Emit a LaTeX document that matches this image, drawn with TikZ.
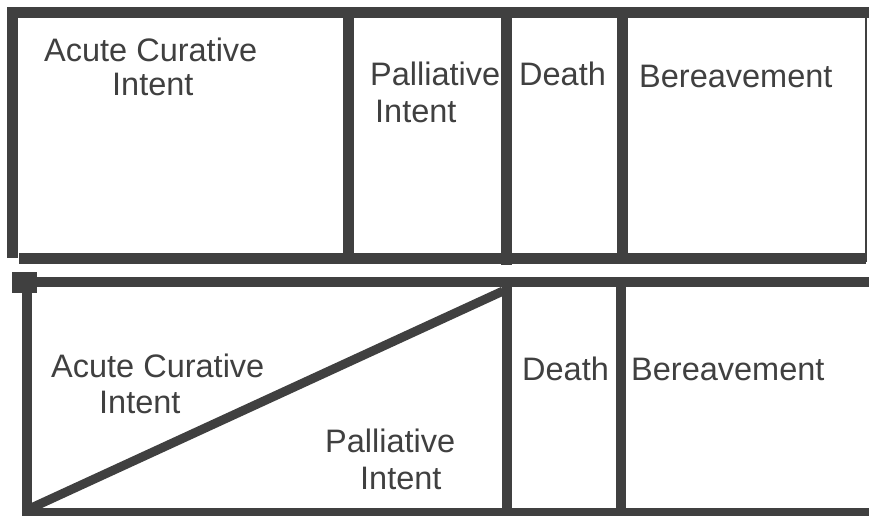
\documentclass[tikz,border=0pt]{standalone}
\usepackage{fontspec}
\setmainfont{Liberation Sans}
\definecolor{ink}{HTML}{404040}
\begin{document}
\begin{tikzpicture}[x=1pt,y=-1pt,
  bar/.style={draw=ink,line width=11pt},
  thin/.style={draw=ink,line width=2pt},
  lbl/.style={anchor=base west,inner sep=0pt,text=ink,font=\fontsize{32.5}{34}\selectfont}]
\useasboundingbox[fill=white] (0,0) rectangle (869,515);
% top panel
\draw[bar] (7,12) -- (869,12);
\draw[bar] (12,7) -- (12,258);
\draw[bar] (19,258) -- (866,258);
\draw[bar] (348,12) -- (348,253);
\draw[bar] (506,12) -- (506,265);
\draw[bar] (622,12) -- (622,260);
\draw[thin] (866,12) -- (866,262);
% bottom panel
\fill[ink] (12,272) rectangle (37,293);
\draw[bar,line width=10pt] (30,282) -- (869,282);
\draw[bar,line width=10pt] (27,282) -- (27,515);
\draw[bar,line width=9pt] (22,512) -- (869,512);
\draw[bar,line width=10pt] (507,282) -- (507,512);
\draw[bar,line width=10pt] (621,282) -- (621,512);
\coordinate (dA) at (29,509);
\coordinate (dB) at (503,291);
\draw[draw=ink,line width=9pt] (dA) -- (dB);
% top labels
\node[lbl] (ta1) at (44,61) {Acute Curative};
\node[lbl] (ta2) at (112,95) {Intent};
\node[lbl] (tp1) at (370,85) {Palliative};
\node[lbl] (tp2) at (375,122) {Intent};
\node[lbl] (td) at (519,85) {Death};
\node[lbl] (tb) at (639,87) {Bereavement};
% bottom labels
\node[lbl] (ba1) at (51,377) {Acute Curative};
\node[lbl] (ba2) at (99,413) {Intent};
\node[lbl] (bp1) at (325,452) {Palliative};
\node[lbl] (bp2) at (360,489) {Intent};
\node[lbl] (bd) at (522,380) {Death};
\node[lbl] (bb) at (631,380) {Bereavement};
\end{tikzpicture}
\end{document}
